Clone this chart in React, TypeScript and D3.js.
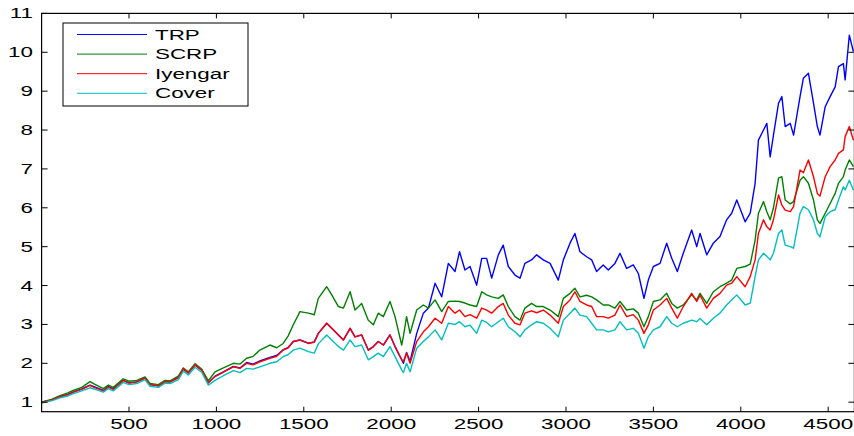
import React from "react";
import * as d3 from "d3";

// sample days and cumulative wealth
const days = [
  0, 60, 105, 150, 181, 230, 277, 300, 353, 382,
  410, 467, 500, 544, 592, 620, 668, 706, 735, 782,
  811, 839, 878, 916, 954, 992, 1040, 1097, 1135, 1173,
  1210, 1249, 1306, 1345, 1382, 1410, 1440, 1478, 1526, 1560,
  1583, 1631, 1660, 1698, 1727, 1765, 1793, 1831, 1869, 1898,
  1926, 1955, 1993, 2022, 2060, 2070, 2088, 2108, 2146, 2184,
  2213, 2251, 2289, 2327, 2365, 2391, 2422, 2451, 2489, 2518,
  2546, 2575, 2613, 2641, 2670, 2708, 2737, 2765, 2803, 2832,
  2870, 2909, 2956, 2985, 3023, 3051, 3080, 3118, 3147, 3175,
  3213, 3242, 3280, 3309, 3347, 3385, 3414, 3446, 3471, 3500,
  3538, 3576, 3605, 3637, 3671, 3719, 3748, 3767, 3805, 3843,
  3881, 3919, 3948, 3977, 4025, 4054, 4082, 4101, 4130, 4149,
  4168, 4187, 4216, 4235, 4254, 4283, 4302, 4339, 4358, 4387,
  4416, 4438, 4453, 4483, 4511, 4540, 4559, 4587, 4597, 4621,
  4644,
];

const trp = [
  1.0, 1.06, 1.14, 1.2, 1.26, 1.34, 1.44, 1.4, 1.3, 1.4,
  1.34, 1.56, 1.5, 1.52, 1.62, 1.45, 1.42, 1.53, 1.52, 1.63,
  1.85, 1.75, 1.96, 1.82, 1.5, 1.67, 1.78, 1.92, 1.88, 2.02,
  1.98, 2.06, 2.15, 2.2, 2.35, 2.4, 2.56, 2.6, 2.52, 2.55,
  2.77, 3.03, 2.9, 2.73, 2.6, 2.9, 2.68, 2.73, 2.34, 2.43,
  2.56, 2.47, 2.73, 2.43, 2.09, 2.0, 2.28, 2.05, 2.77, 3.29,
  3.42, 4.06, 3.71, 4.57, 4.36, 4.87, 4.4, 4.49, 4.01, 4.7,
  4.7, 4.19, 4.79, 5.04, 4.49, 4.27, 4.19, 4.57, 4.66, 4.79,
  4.66, 4.57, 4.14, 4.66, 5.09, 5.34, 4.87, 4.74, 4.66, 4.36,
  4.53, 4.4, 4.57, 4.83, 4.44, 4.53, 4.31, 3.67, 4.14, 4.49,
  4.57, 5.09, 4.7, 4.36, 4.83, 5.43, 5.0, 5.34, 4.79, 5.09,
  5.26, 5.69, 5.86, 6.2, 5.64, 5.86, 6.63, 7.74, 8.0, 8.17,
  7.31, 7.87, 8.69, 8.86, 8.09, 8.17, 7.87, 8.86, 9.33, 9.46,
  8.69, 8.09, 7.87, 8.6, 8.86, 9.11, 9.63, 9.71, 9.29, 10.44,
  10.02,
];

const scrp = [
  1.0, 1.08, 1.17, 1.24, 1.3, 1.38, 1.53, 1.47, 1.35, 1.44,
  1.38, 1.6, 1.54, 1.56, 1.65, 1.48, 1.45, 1.56, 1.55, 1.67,
  1.88, 1.78, 1.99, 1.85, 1.55, 1.78, 1.88, 2.0, 1.98, 2.13,
  2.18, 2.34, 2.47, 2.4, 2.51, 2.7, 2.99, 3.33, 3.29, 3.25,
  3.67, 3.97, 3.76, 3.46, 3.42, 3.84, 3.37, 3.54, 3.11, 2.99,
  3.29, 3.2, 3.59, 3.2, 2.47, 2.7, 3.2, 2.77, 3.37, 3.5,
  3.42, 3.63, 3.33, 3.59, 3.6, 3.59, 3.55, 3.5, 3.46, 3.84,
  3.76, 3.71, 3.67, 3.76, 3.46, 3.2, 3.11, 3.42, 3.54, 3.46,
  3.46, 3.37, 3.2, 3.67, 3.8, 3.93, 3.71, 3.75, 3.71, 3.63,
  3.5, 3.5, 3.42, 3.59, 3.37, 3.4, 3.29, 2.94, 3.2, 3.59,
  3.63, 3.8, 3.54, 3.42, 3.5, 3.76, 3.63, 3.8, 3.54, 3.84,
  3.97, 4.06, 4.14, 4.44, 4.49, 4.55, 5.17, 5.86, 6.16, 5.9,
  5.69, 6.0, 6.76, 6.8, 6.2, 6.1, 6.16, 6.71, 6.8, 6.63,
  6.2, 5.69, 5.6, 5.86, 6.11, 6.37, 6.63, 6.8, 6.97, 7.23,
  7.06,
];

const iyengar = [
  1.0, 1.06, 1.14, 1.19, 1.26, 1.33, 1.43, 1.38, 1.29, 1.39,
  1.33, 1.56, 1.49, 1.52, 1.62, 1.45, 1.42, 1.53, 1.52, 1.63,
  1.86, 1.75, 1.96, 1.82, 1.5, 1.66, 1.77, 1.91, 1.87, 2.0,
  1.96, 2.04, 2.13, 2.18, 2.34, 2.4, 2.56, 2.6, 2.51, 2.54,
  2.77, 3.03, 2.9, 2.73, 2.6, 2.9, 2.68, 2.73, 2.34, 2.43,
  2.56, 2.47, 2.73, 2.43, 2.09, 2.05, 2.26, 2.0, 2.56, 2.81,
  2.94, 3.16, 3.03, 3.46, 3.29, 3.37, 3.2, 3.25, 3.16, 3.42,
  3.37, 3.29, 3.46, 3.54, 3.24, 3.03, 2.99, 3.29, 3.35, 3.3,
  3.37, 3.24, 3.03, 3.46, 3.63, 3.84, 3.59, 3.5, 3.46, 3.2,
  3.2, 3.16, 3.24, 3.5, 3.2, 3.25, 3.11, 2.77, 2.99, 3.37,
  3.5, 3.67, 3.42, 3.16, 3.46, 3.8, 3.59, 3.75, 3.42, 3.67,
  3.8, 4.01, 4.06, 4.23, 3.97, 4.23, 4.66, 5.34, 5.69, 5.51,
  5.43, 5.69, 6.33, 6.07, 5.94, 5.9, 6.03, 6.97, 6.9, 7.23,
  6.8, 6.37, 6.3, 6.8, 7.06, 7.23, 7.4, 7.49, 7.83, 8.09,
  7.74,
];

const cover = [
  0.98, 1.04, 1.11, 1.16, 1.22, 1.29, 1.37, 1.34, 1.26, 1.35,
  1.29, 1.51, 1.45, 1.48, 1.58, 1.41, 1.38, 1.49, 1.48, 1.58,
  1.8, 1.7, 1.9, 1.77, 1.44, 1.56, 1.68, 1.81, 1.76, 1.87,
  1.85, 1.91, 2.0, 2.04, 2.17, 2.22, 2.34, 2.39, 2.3, 2.26,
  2.5, 2.73, 2.6, 2.43, 2.34, 2.6, 2.43, 2.47, 2.09, 2.17,
  2.26, 2.17, 2.43, 2.17, 1.83, 1.76, 2.0, 1.78, 2.39, 2.56,
  2.68, 2.86, 2.6, 3.03, 3.0, 3.07, 2.94, 2.98, 2.77, 3.11,
  3.05, 2.94, 3.07, 3.16, 2.94, 2.81, 2.68, 2.86, 2.99, 3.07,
  3.03, 2.9, 2.68, 3.11, 3.29, 3.42, 3.24, 3.2, 3.03, 2.86,
  2.86, 2.81, 2.86, 3.07, 2.86, 2.9, 2.77, 2.39, 2.68, 2.86,
  2.94, 3.2, 3.03, 2.94, 3.03, 3.11, 3.07, 3.15, 2.99, 3.16,
  3.29, 3.5, 3.63, 3.76, 3.5, 3.55, 4.23, 4.66, 4.83, 4.75,
  4.66, 4.83, 5.34, 5.43, 5.04, 5.0, 4.96, 5.86, 6.03, 5.95,
  5.69, 5.34, 5.25, 5.77, 5.9, 5.95, 6.2, 6.54, 6.46, 6.71,
  6.46,
];

const seriesNames = ["TRP", "SCRP", "Iyengar", "Cover"];
const seriesColors = ["#0000ff", "#008000", "#ff0000", "#00bfbf"];
const xTicks = [500, 1000, 1500, 2000, 2500, 3000, 3500, 4000, 4500];
const yTicks = [1, 2, 3, 4, 5, 6, 7, 8, 9, 10, 11];

const W = 854;
const H = 436;
const left = 41.6;
const right = 854.4;
const top = 13.4;
const bottom = 411.7;
const stretch = 1.6; // the source text is squashed wide

const font = "'Liberation Sans', Arial, Helvetica, sans-serif";

export default function App() {
  const x = d3.scaleLinear().domain([0, 4650]).range([left, right]);
  const y = d3.scaleLinear().domain([0.755, 11]).range([bottom, top]);

  const all = [trp, scrp, iyengar, cover];
  const line = d3
    .line<number>()
    .x((_, i) => x(days[i]))
    .y((d) => y(d));

  const legendX = 63;
  const legendY = 23;

  return (
    <svg
      width={W}
      height={H}
      style={{ position: "absolute", left: 0, top: 0, background: "#fff" }}
      fontFamily={font}
      fontSize={14}
    >
      <defs>
        <clipPath id="plot">
          <rect x={left} y={top} width={right - left} height={bottom - top} />
        </clipPath>
      </defs>

      <g clipPath="url(#plot)">
        {all.map((s, i) => (
          <path
            key={i}
            d={line(s) || ""}
            fill="none"
            stroke={seriesColors[i]}
            strokeWidth={1.4}
            strokeLinejoin="round"
          />
        ))}
      </g>

      {/* axes box */}
      <rect
        x={left}
        y={top}
        width={right - left}
        height={bottom - top}
        fill="none"
        stroke="#000"
        strokeWidth={1.2}
      />

      {xTicks.map((t) => (
        <g key={t}>
          <line x1={x(t)} x2={x(t)} y1={bottom} y2={bottom - 5} stroke="#000" />
          <line x1={x(t)} x2={x(t)} y1={top} y2={top + 5} stroke="#000" />
          <text
            transform={`translate(${x(t)},${429}) scale(${stretch},1)`}
            textAnchor="middle"
          >
            {t}
          </text>
        </g>
      ))}

      {yTicks.map((t) => (
        <g key={t}>
          <line x1={left} x2={left + 6} y1={y(t)} y2={y(t)} stroke="#000" />
          <line x1={right - 6} x2={right} y1={y(t)} y2={y(t)} stroke="#000" />
          <text
            transform={`translate(${33},${y(t) + 5}) scale(${stretch},1)`}
            textAnchor="end"
          >
            {t}
          </text>
        </g>
      ))}

      {/* legend */}
      <rect
        x={legendX}
        y={legendY}
        width={185}
        height={83}
        fill="#fff"
        stroke="#000"
        strokeWidth={1}
      />
      {seriesNames.map((n, i) => {
        const ly = 34.5 + i * 19.6;
        return (
          <g key={n}>
            <line
              x1={77}
              x2={147}
              y1={ly}
              y2={ly}
              stroke={seriesColors[i]}
              strokeWidth={1}
            />
            <text transform={`translate(155,${ly + 5}) scale(${stretch},1)`}>
              {n}
            </text>
          </g>
        );
      })}
    </svg>
  );
}
